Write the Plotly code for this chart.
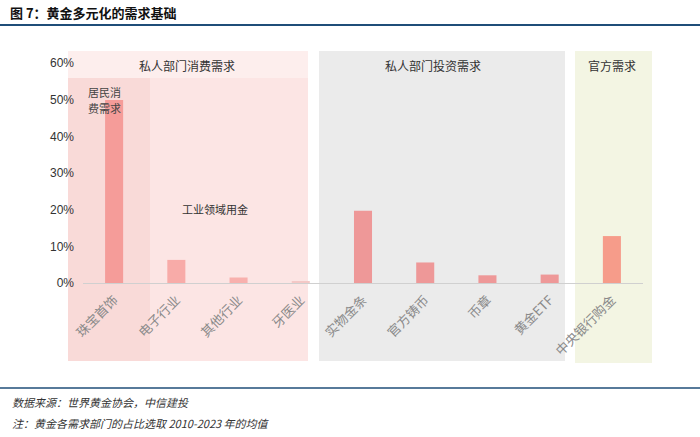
import plotly.graph_objects as go

categories = ["珠宝首饰", "电子行业", "其他行业", "牙医业", "实物金条", "官方铸币", "币章", "黄金ETF", "中央银行购金"]
values = [0.499, 0.063, 0.015, 0.004, 0.197, 0.056, 0.021, 0.023, 0.128]
bar_colors = ["#F59C99", "#F8ABA8", "#F8B0AD", "#F4C8C6", "#EE9898", "#EE9898", "#EE9898", "#EE9898", "#F69C8A"]
y_ticks = [0, 0.1, 0.2, 0.3, 0.4, 0.5, 0.6]
y_tick_labels = ["0%", "10%", "20%", "30%", "40%", "50%", "60%"]
group_labels = ["私人部门消费需求", "私人部门投资需求", "官方需求"]
sub_labels = ["居民消", "费需求", "工业领域用金"]
title = "图 7：黄金多元化的需求基础"
source = "数据来源：世界黄金协会，中信建投"
note = "注：黄金各需求部门的占比选取 2010-2023 年的均值"

W, H = 700, 437
def px(x):
    return x / W
def py(y):
    return 1 - y / H

CJK = "Noto Sans CJK SC"

fig = go.Figure()
fig.add_trace(go.Bar(
    x=list(range(len(categories))), y=values,
    marker=dict(color=bar_colors, line=dict(width=0)),
    width=0.29, hoverinfo="skip",
))

shapes = []
def rect(x0, y0, x1, y1, color):
    shapes.append(dict(type="rect", xref="paper", yref="paper", x0=px(x0), x1=px(x1),
                       y0=py(y1), y1=py(y0), fillcolor=color, line=dict(width=0), layer="below"))

# panels
rect(68, 51, 308, 361, "#FCE5E4")
rect(68, 51, 308, 78, "#FDEEED")
rect(68, 78, 150, 361, "#F9DAD8")
rect(319, 51, 565, 361, "#EBEBEB")
rect(575, 51, 652, 363, "#F3F5E3")
# header / footer lines
shapes.append(dict(type="line", xref="paper", yref="paper", x0=0, x1=1, y0=py(25), y1=py(25),
                   line=dict(color="#1F4E79", width=2)))
shapes.append(dict(type="line", xref="paper", yref="paper", x0=0, x1=1, y0=py(388), y1=py(388),
                   line=dict(color="#1F4E79", width=1.5)))

annotations = []
def text(x, y, s, size=12, color="#333333", anchor="center", family=CJK):
    annotations.append(dict(xref="paper", yref="paper", x=px(x), y=py(y), text=s, showarrow=False,
                            xanchor=anchor, yanchor="middle",
                            font=dict(family=family, size=size, color=color)))

text(8, 12, "<b>" + title + "</b>", size=13, color="#111111", anchor="left")
text(187, 66, group_labels[0], size=12, color="#333333")
text(433, 66, group_labels[1], size=12, color="#333333")
text(612, 66, group_labels[2], size=12, color="#333333")
text(104, 92, sub_labels[0], size=11, color="#444444")
text(104, 108, sub_labels[1], size=11, color="#444444")
text(215, 209, sub_labels[2], size=11, color="#333333")
text(10, 402, "<i>" + source + "</i>", size=11, color="#333333", anchor="left")
text(10, 423, "<i>" + note + "</i>", size=11, color="#333333", anchor="left")

fig.update_layout(
    width=W, height=H, margin=dict(l=0, r=0, t=0, b=0),
    paper_bgcolor="white", plot_bgcolor="rgba(0,0,0,0)",
    showlegend=False, bargap=0.7,
    shapes=shapes, annotations=annotations,
    xaxis=dict(domain=[px(83), px(643)], range=[-0.5, 8.5],
               tickmode="array", tickvals=list(range(len(categories))), ticktext=categories,
               tickangle=-45, tickfont=dict(family=CJK, size=13, color="#8A8A8A"),
               ticklabelstandoff=6,
               showgrid=False, zeroline=False, showline=False, ticks="", automargin=False,
               fixedrange=True),
    yaxis=dict(domain=[py(283), py(63)], range=[0, 0.6],
               tickmode="array", tickvals=y_ticks, ticktext=y_tick_labels,
               tickfont=dict(family="Liberation Sans, Arial", size=12, color="#333333"),
               ticklabelstandoff=8,
               showgrid=False, zeroline=True, zerolinecolor="#D0D0D0", zerolinewidth=1,
               showline=False, ticks="", ticklen=0, automargin=False, fixedrange=True),
)

fig.write_html("out.html")
